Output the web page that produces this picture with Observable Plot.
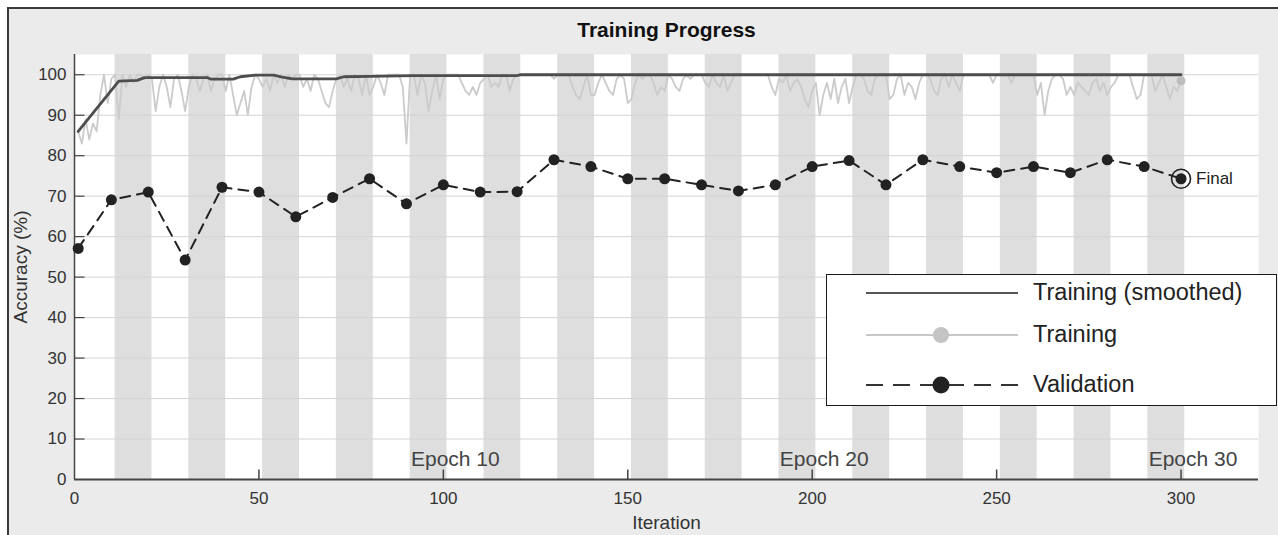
<!DOCTYPE html>
<html>
<head>
<meta charset="utf-8">
<script src="https://cdn.jsdelivr.net/npm/d3@7"></script>
<script src="https://cdn.jsdelivr.net/npm/@observablehq/plot@0.6"></script>
<style>
  html, body { margin: 0; padding: 0; background: #ffffff; }
  #wrap { position: relative; width: 1278px; height: 535px; overflow: hidden; font-family: "Liberation Sans", Arial, sans-serif; }
  #bg { position: absolute; left: 7px; top: 7px; right: 0; bottom: 0; background: #ebebeb; border-left: 2px solid #3a3a3a; border-top: 2px solid #3a3a3a; }
  #chart { position: absolute; left: 0; top: 0; }
  #legend { position: absolute; left: 826px; top: 274px; width: 451px; height: 132px; box-sizing: border-box; border: 1.5px solid #1a1a1a; background: #ffffff; }
  #legend svg { position: absolute; left: 0; top: 0; }
</style>
</head>
<body>
<div id="wrap">
  <div id="bg"></div>
  <div id="chart"></div>
  <div id="legend"></div>
</div>
<script>
// ---------------- data ----------------
const title = "Training Progress";
const xLabel = "Iteration";
const yLabel = "Accuracy (%)";
const legendLabels = ["Training (smoothed)", "Training", "Validation"];
const finalLabel = "Final";

const itersPerEpoch = 10;
const nEpochs = 30;
const epochLabelEpochs = [10, 20, 30];

const xTicks = [0, 50, 100, 150, 200, 250, 300];
const yTicks = [0, 10, 20, 30, 40, 50, 60, 70, 80, 90, 100];

// raw training accuracy, iterations 1..300
const trainAcc = [
  86, 83, 89, 84, 88, 86, 95, 100, 93, 99,
  100, 89, 100, 97, 100, 98, 100, 100, 99, 100,
  99, 91, 97, 100, 97, 92, 99, 100, 96, 91,
  97, 100, 99, 96, 99, 100, 96, 99, 100, 100,
  96, 100, 95, 90, 93, 96, 90, 97, 100, 99,
  97, 99, 96, 100, 98, 100, 97, 100, 99, 100,
  100, 97, 99, 96, 100, 99, 96, 93, 92, 96,
  99, 100, 97, 99, 96, 100, 99, 95, 100, 95,
  97, 100, 98, 95, 100, 100, 100, 100, 97, 83,
  100, 100, 95, 100, 98, 91, 96, 100, 94, 99,
  100, 100, 100, 100, 98, 96, 95, 97, 95, 98,
  99, 100, 97, 98, 97, 100, 100, 96, 99, 100,
  100, 100, 100, 100, 100, 100, 100, 100, 100, 99,
  100, 100, 100, 100, 97, 95, 94, 97, 100, 95,
  95, 98, 100, 98, 96, 95, 99, 100, 99, 93,
  94, 98, 100, 99, 100, 100, 98, 95, 97, 96,
  100, 99, 97, 96, 99, 100, 99, 100, 100, 100,
  98, 97, 100, 98, 97, 100, 96, 98, 100, 100,
  100, 100, 100, 100, 100, 100, 100, 100, 97, 95,
  99, 98, 100, 96, 98, 99, 97, 94, 92, 96,
  98, 90, 95, 98, 94, 99, 93, 97, 99, 93,
  97, 100, 100, 99, 96, 95, 99, 100, 100, 100,
  94, 95, 99, 100, 95, 98, 97, 94, 98, 100,
  100, 99, 96, 95, 99, 100, 97, 100, 98, 96,
  100, 100, 100, 100, 100, 100, 100, 100, 98, 100,
  100, 100, 100, 98, 100, 100, 100, 100, 100, 100,
  95, 98, 90, 96, 99, 100, 100, 99, 95, 97,
  95, 98, 97, 96, 95, 98, 99, 96, 98, 95,
  97, 98, 100, 100, 100, 100, 97, 94, 95, 100,
  100, 100, 96, 98, 100, 97, 94, 97, 96, 98.5
];

// smoothed training accuracy (breakpoints)
const smoothIter = [1, 12, 17, 19, 36, 37, 43, 45, 49, 54, 56, 59, 71, 73, 80, 92, 120, 121, 300];
const smoothAcc  = [86, 98.4, 98.6, 99.3, 99.3, 98.9, 98.9, 99.5, 99.9, 99.9, 99.5, 99.0, 99.0, 99.5, 99.6, 99.8, 99.8, 100, 100];

// validation accuracy
const valIter = [1, 10, 20, 30, 40, 50, 60, 70, 80, 90, 100, 110, 120, 130, 140, 150,
                 160, 170, 180, 190, 200, 210, 220, 230, 240, 250, 260, 270, 280, 290, 300];
const valAcc  = [57.1, 69.1, 71.0, 54.2, 72.2, 71.0, 64.9, 69.7, 74.3, 68.1, 72.8, 71.0, 71.1, 79.0, 77.3, 74.3,
                 74.3, 72.8, 71.3, 72.8, 77.3, 78.8, 72.8, 79.0, 77.3, 75.8, 77.3, 75.8, 79.0, 77.3, 74.3];

// ---------------- derived tables ----------------
const trainRows = trainAcc.map((a, i) => ({iter: i + 1, acc: a}));
const smoothRows = smoothIter.map((it, i) => ({iter: it, acc: smoothAcc[i]}));
const valRows = valIter.map((it, i) => ({iter: it, acc: valAcc[i]}));
const bands = d3.range(1, nEpochs + 1).filter(k => k % 2 === 0)
  .map(k => ({x1: (k - 1) * itersPerEpoch + 1, x2: k * itersPerEpoch + 1}));
const lastTrain = trainRows[trainRows.length - 1];
const lastVal = valRows[valRows.length - 1];

// custom tick symbols (inward ticks)
const tickUp = {draw(ctx) { ctx.moveTo(0, 0); ctx.lineTo(0, -10); }};
const tickRight = {draw(ctx) { ctx.moveTo(0, 0); ctx.lineTo(10, 0); }};

const chart = Plot.plot({
  width: 1278,
  height: 535,
  marginLeft: 74,
  marginRight: 20,
  marginTop: 54,
  marginBottom: 56,
  style: {background: "transparent", fontFamily: "'Liberation Sans', Arial, sans-serif", fontSize: "17px", color: "#333"},
  x: {domain: [0, 321], ticks: xTicks, tickSize: 0, tickPadding: 12, label: null},
  y: {domain: [0, 105], ticks: yTicks, tickSize: 0, tickPadding: 8, label: null},
  marks: [
    Plot.frame({fill: "#ffffff", stroke: "none"}),
    Plot.rect(bands, {x1: "x1", x2: "x2", fill: "#dedede"}),
    Plot.ruleY(yTicks.filter(d => d > 0), {stroke: "#d4d4d4", strokeWidth: 1}),
    Plot.ruleX([0], {stroke: "#444", strokeWidth: 1.5}),
    Plot.ruleY([0], {stroke: "#444", strokeWidth: 2}),
    Plot.dot(xTicks.filter(d => d > 0), {x: d => d, y: () => 0, symbol: tickUp, stroke: "#444", strokeWidth: 1.5, fill: "none"}),
    Plot.dot(yTicks.filter(d => d > 0), {x: () => 0, y: d => d, symbol: tickRight, stroke: "#444", strokeWidth: 1.2, fill: "none"}),
    Plot.line(trainRows, {x: "iter", y: "acc", stroke: "#cbcbcb", strokeWidth: 1.8}),
    Plot.line(smoothRows, {x: "iter", y: "acc", stroke: "#4d4d4d", strokeWidth: 2.8}),
    Plot.dot([lastTrain], {x: "iter", y: "acc", r: 4.5, fill: "#bdbdbd"}),
    Plot.line(valRows, {x: "iter", y: "acc", stroke: "#222", strokeWidth: 2, strokeDasharray: "10,7"}),
    Plot.dot(valRows, {x: "iter", y: "acc", r: 5.5, fill: "#222"}),
    Plot.dot([lastVal], {x: "iter", y: "acc", r: 9.5, stroke: "#222", strokeWidth: 1.6, fill: "none"}),
    Plot.text([lastVal], {x: "iter", y: "acc", text: () => finalLabel, dx: 15, textAnchor: "start", fontSize: 17, fill: "#222"}),
    Plot.text(epochLabelEpochs, {x: d => d * itersPerEpoch, y: () => 0, text: d => `Epoch ${d}`, dx: 12, dy: -20, fontSize: 21, fill: "#444"}),
    Plot.text([title], {frameAnchor: "top", lineAnchor: "middle", dy: -24, fontSize: 21, fontWeight: "bold", fill: "#111"}),
    Plot.text([xLabel], {frameAnchor: "bottom", lineAnchor: "middle", dy: 43, fontSize: 19, fill: "#333"}),
    Plot.text([yLabel], {frameAnchor: "left", textAnchor: "middle", lineAnchor: "middle", dx: -54, rotate: -90, fontSize: 19, fill: "#333"})
  ]
});
document.getElementById("chart").appendChild(chart);

// ---------------- legend ----------------
const lg = d3.select("#legend").append("svg").attr("width", 450).attr("height", 130);
const rowsY = [18, 60, 110];
const swX1 = 39, swX2 = 191, swC = 114, txtX = 206;
// row 1
lg.append("line").attr("x1", swX1).attr("x2", swX2).attr("y1", rowsY[0]).attr("y2", rowsY[0])
  .attr("stroke", "#555").attr("stroke-width", 2);
// row 2
lg.append("line").attr("x1", swX1).attr("x2", swX2).attr("y1", rowsY[1]).attr("y2", rowsY[1])
  .attr("stroke", "#c8c8c8").attr("stroke-width", 2);
lg.append("circle").attr("cx", swC).attr("cy", rowsY[1]).attr("r", 8).attr("fill", "#c4c4c4");
// row 3
lg.append("line").attr("x1", swX1).attr("x2", swX2).attr("y1", rowsY[2]).attr("y2", rowsY[2])
  .attr("stroke", "#333").attr("stroke-width", 2).attr("stroke-dasharray", "17,10");
lg.append("circle").attr("cx", swC).attr("cy", rowsY[2]).attr("r", 8.5).attr("fill", "#222");
lg.selectAll("text.lbl").data(legendLabels).join("text")
  .attr("x", txtX).attr("y", (d, i) => rowsY[i] + 1)
  .attr("dominant-baseline", "middle")
  .attr("font-family", "'Liberation Sans', Arial, sans-serif")
  .attr("font-size", 23.5).attr("fill", "#222")
  .text(d => d);
</script>
</body>
</html>
